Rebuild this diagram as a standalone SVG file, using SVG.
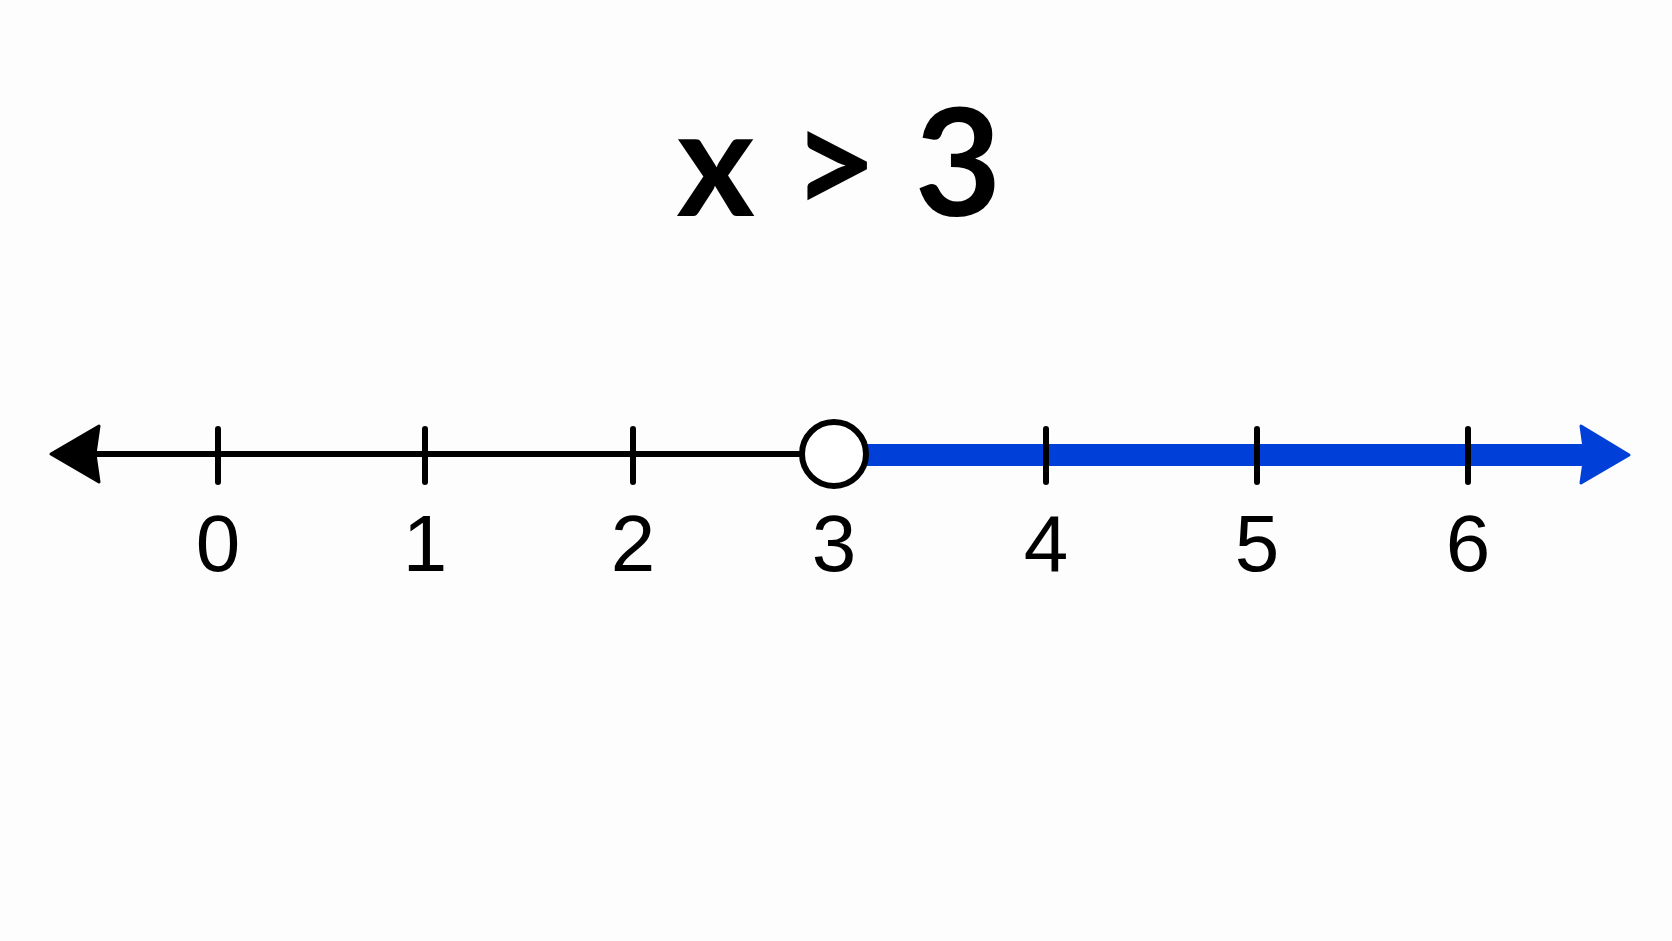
<svg xmlns="http://www.w3.org/2000/svg" width="1672" height="941" viewBox="0 0 1672 941">
<style>
.lbl{font-family:"Liberation Sans",Arial,sans-serif;font-size:80px;fill:#000;text-anchor:middle}
.tick{stroke:#000;stroke-width:6;stroke-linecap:round}
</style>
<rect width="1672" height="941" fill="#fdfdfd"/>
<g id="title"><text x="839" y="216" text-anchor="middle" font-family="Lato,'Liberation Sans',sans-serif" font-weight="bold" font-size="150" fill="#000" xml:space="preserve">x &gt; 3</text></g>
<g id="connectors">
<line x1="90" y1="454" x2="805" y2="454" stroke="#000" stroke-width="6"/>
<path d="M51,454 L99,426 L95,454 L99,482 Z" fill="#000" stroke="#000" stroke-width="3" stroke-linejoin="round"/>
<rect x="862" y="444" width="725" height="22" fill="#0040d8"/>
<path d="M1629,455 L1581,426 L1585,455 L1581,483 Z" fill="#0040d8" stroke="#0040d8" stroke-width="3" stroke-linejoin="round"/>
</g>
<g id="ticks">
<line class="tick" x1="218" y1="429" x2="218" y2="482"/>
<line class="tick" x1="425" y1="429" x2="425" y2="482"/>
<line class="tick" x1="633" y1="429" x2="633" y2="482"/>
<line class="tick" x1="1046" y1="429" x2="1046" y2="482" stroke="#0a1a6a"/>
<line class="tick" x1="1257" y1="429" x2="1257" y2="482" stroke="#0a1a6a"/>
<line class="tick" x1="1468" y1="429" x2="1468" y2="482" stroke="#0a1a6a"/>
</g>
<g id="point3"><circle cx="834" cy="454" r="32" fill="#fff" stroke="#000" stroke-width="6"/></g>
<g id="labels">
<text class="lbl" x="218" y="571">0</text>
<text class="lbl" x="425" y="571">1</text>
<text class="lbl" x="633" y="571">2</text>
<text class="lbl" x="834" y="571">3</text>
<text class="lbl" x="1046" y="571">4</text>
<text class="lbl" x="1257" y="571">5</text>
<text class="lbl" x="1468" y="571">6</text>
</g>
</svg>
